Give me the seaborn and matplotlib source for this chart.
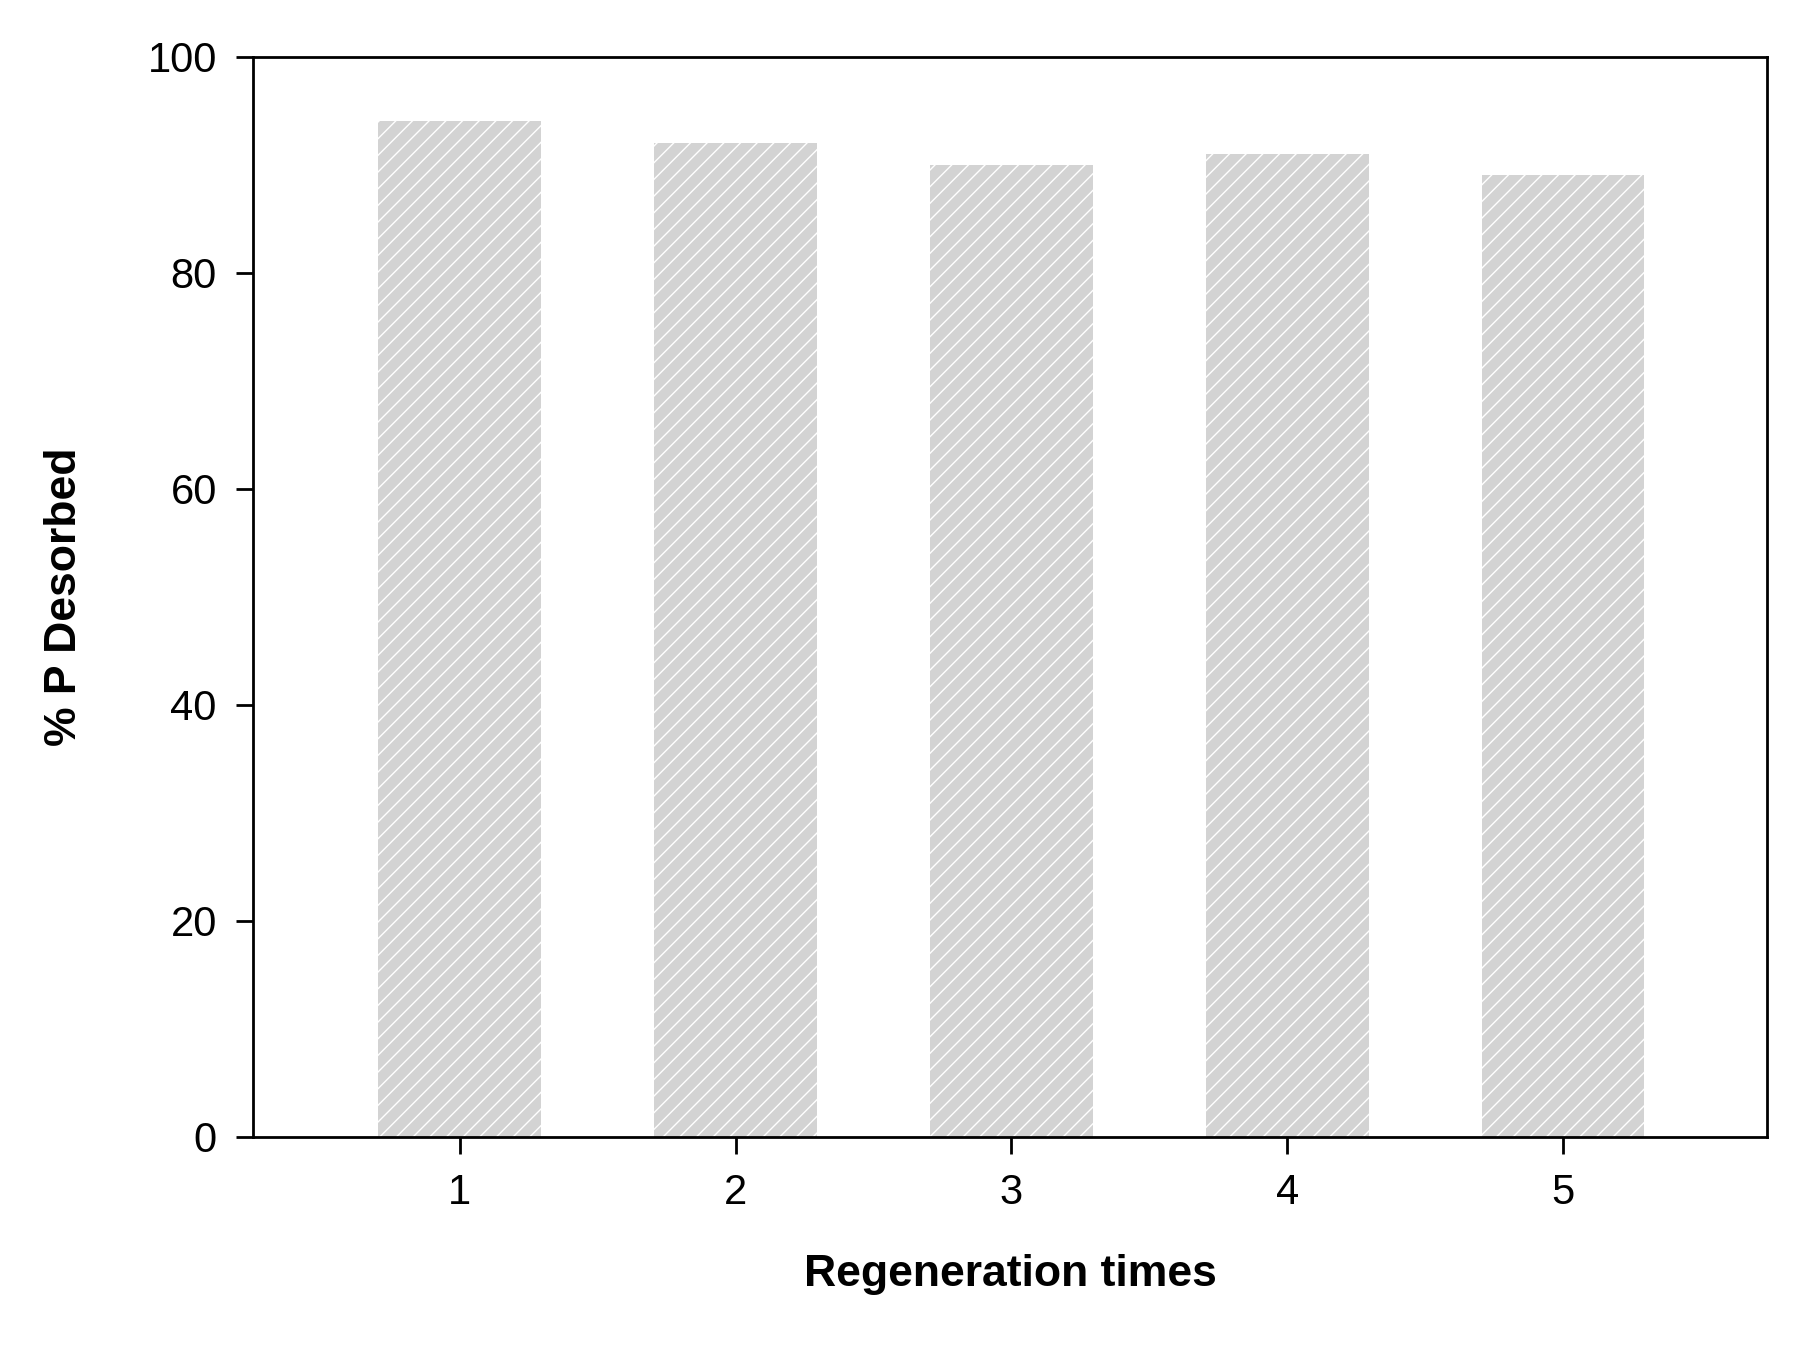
import matplotlib
matplotlib.use("Agg")
import matplotlib.pyplot as plt
import seaborn as sns
import pandas as pd

# DATA
regeneration = ["1", "2", "3", "4", "5"]
desorbed = [94, 92, 90, 91, 89]

df = pd.DataFrame({"Regeneration": regeneration, "Desorbed": desorbed})

sns.set_style("ticks")
plt.rcParams["font.family"] = ["Liberation Sans", "DejaVu Sans"]
plt.rcParams["hatch.linewidth"] = 1.0
plt.rcParams["text.color"] = "black"
plt.rcParams["axes.labelcolor"] = "black"
plt.rcParams["xtick.color"] = "black"
plt.rcParams["ytick.color"] = "black"
plt.rcParams["axes.edgecolor"] = "black"

fig = plt.figure(figsize=(17.94, 13.5), dpi=100)
ax = fig.add_axes([0.141, 0.158, 0.844, 0.8])

sns.barplot(data=df, x="Regeneration", y="Desorbed", color="#d3d3d3",
            saturation=1, width=0.59, ax=ax, edgecolor="white", linewidth=0)
for p in ax.patches:
    p.set_hatch("//")
    p.set_edgecolor("white")
    p.set_linewidth(0)

ax.set_ylim(0, 100)
ax.set_yticks([0, 20, 40, 60, 80, 100])
ax.set_xlim(-0.75, 4.74)
for s in ax.spines.values():
    s.set_linewidth(2)
    s.set_visible(True)
ax.tick_params(labelsize=30, width=2, length=12, pad=14)
ax.set_xlabel("Regeneration times", fontsize=32, fontweight="bold", labelpad=30)
ax.set_ylabel("% P Desorbed", fontsize=32, fontweight="bold", labelpad=45)

fig.savefig("out.png", dpi=100)
